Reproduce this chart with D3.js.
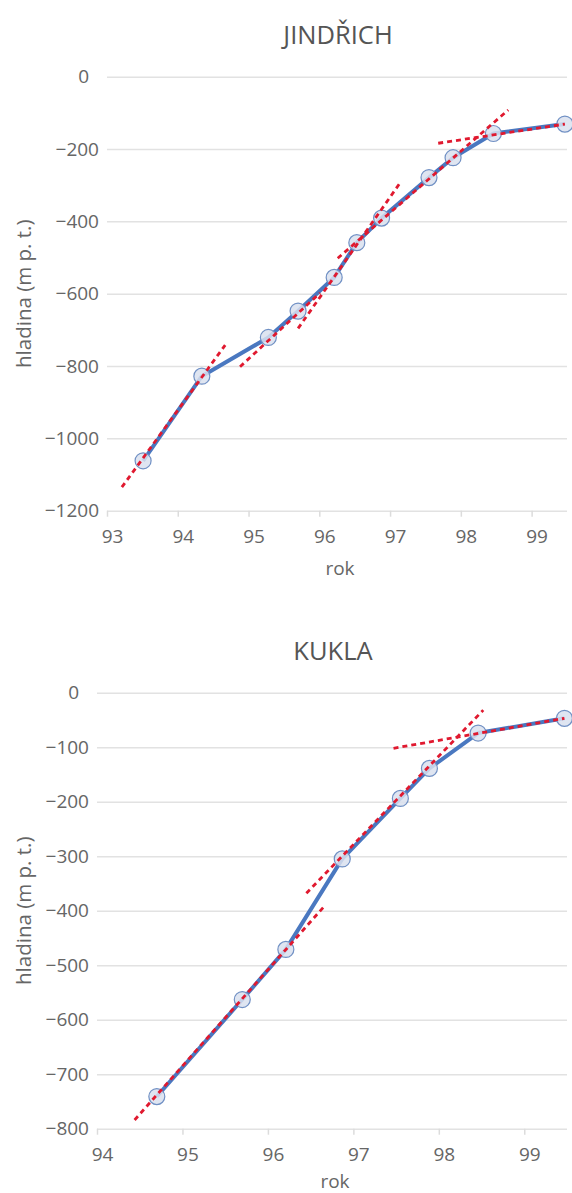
<!DOCTYPE html>
<html>
<head>
<meta charset="utf-8">
<script src="https://cdn.jsdelivr.net/npm/d3@7"></script>
<style>
  html, body { margin: 0; padding: 0; background: #fff; }
  svg { display: block; font-family: "Open Sans", sans-serif; }
</style>
</head>
<body>
<svg id="chart" width="572" height="1193"></svg>
<script>
// ---------- DATA ----------
// JINDŘICH
const jTitle = "JINDŘICH";
const jYears  = [93.51, 94.34, 95.28, 95.70, 96.21, 96.53, 96.88, 97.55, 97.89, 98.46, 99.47];
const jLevels = [-1062, -828, -721, -648, -555, -459, -391, -279, -224, -157, -131];
// trend segments: [x1, y1, x2, y2]
const jTrends = [
  [93.21, -1135, 94.67, -742],
  [94.88, -802, 96.01, -598],
  [95.70, -696, 97.14, -294],
  [96.26, -502, 98.67, -92],
  [97.68, -184, 99.47, -131]
];
const jXTicks = [93, 94, 95, 96, 97, 98, 99];
const jYTicks = [0, -200, -400, -600, -800, -1000, -1200];

// KUKLA
const kTitle = "KUKLA";
const kYears  = [94.70, 95.70, 96.21, 96.87, 97.55, 97.89, 98.46, 99.47];
const kLevels = [-741, -563, -471, -305, -194, -139, -74, -47];
const kTrends = [
  [94.44, -784, 96.67, -390],
  [96.45, -368, 98.52, -32],
  [97.47, -102, 99.47, -47]
];
const kXTicks = [94, 95, 96, 97, 98, 99];
const kYTicks = [0, -100, -200, -300, -400, -500, -600, -700, -800];

const xLabel = "rok";
const yLabel = "hladina (m p. t.)";

// ---------- DRAW ----------
const svg = d3.select("#chart");
const fmt = d => (d < 0 ? "\u2212" : "") + Math.abs(d);

function drawChart(cfg) {
  const x = d3.scaleLinear().domain(cfg.xDomain).range(cfg.xRange);
  const y = d3.scaleLinear().domain(cfg.yDomain).range(cfg.yRange);
  const g = svg.append("g");
  const w = cfg.xRange[1] - cfg.xRange[0];

  // title
  g.append("text")
    .attr("x", (cfg.xRange[0] + cfg.xRange[1]) / 2 + 1)
    .attr("y", cfg.titleY)
    .attr("text-anchor", "middle")
    .attr("font-size", 25.5)
    .attr("fill", "#555")
    .text(cfg.title);

  // y axis with gridlines
  const yAx = g.append("g")
    .attr("transform", `translate(${cfg.xRange[0]},0)`)
    .call(d3.axisLeft(y).tickValues(cfg.yTicks).tickFormat(fmt).tickSize(-w).tickPadding(8));
  yAx.select(".domain").remove();
  yAx.selectAll(".tick line").attr("stroke", "#e2e2e2").attr("stroke-width", 1.5);
  yAx.selectAll(".tick text")
    .attr("fill", "#666")
    .attr("font-size", 19)
    .attr("font-family", "Open Sans, sans-serif")
    .attr("dx", d => d === 0 ? -10 : 0);

  // x axis
  const xAx = g.append("g")
    .attr("transform", `translate(0,${cfg.yRange[0]})`)
    .call(d3.axisBottom(x).tickValues(cfg.xTicks).tickFormat(d3.format("d")).tickSize(6).tickPadding(8));
  xAx.select(".domain").remove();
  xAx.selectAll(".tick line").attr("stroke", "#dcdcdc").attr("stroke-width", 1.5);
  xAx.selectAll(".tick text")
    .attr("fill", "#666")
    .attr("font-size", 19)
    .attr("font-family", "Open Sans, sans-serif")
    .attr("dx", 5)
    .attr("dy", 0)
    .attr("y", 32.5);

  // axis titles
  g.append("text")
    .attr("x", (cfg.xRange[0] + cfg.xRange[1]) / 2 + 3)
    .attr("y", cfg.yRange[0] + cfg.xTitleOffset)
    .attr("text-anchor", "middle")
    .attr("font-size", 19)
    .attr("fill", "#666")
    .text(xLabel);

  const yMid = (cfg.yRange[0] + cfg.yRange[1]) / 2;
  g.append("text")
    .attr("transform", `translate(31,${yMid}) rotate(-90)`)
    .attr("text-anchor", "middle")
    .attr("font-size", 20.5)
    .attr("fill", "#666")
    .text(yLabel);

  // data line
  const pts = cfg.years.map((yr, i) => [yr, cfg.levels[i]]);
  g.append("path")
    .datum(pts)
    .attr("fill", "none")
    .attr("stroke", "#4a78c0")
    .attr("stroke-width", 4)
    .attr("stroke-linejoin", "round")
    .attr("d", d3.line().x(d => x(d[0])).y(d => y(d[1])));

  // markers
  g.selectAll("circle.pt")
    .data(pts)
    .join("circle")
    .attr("class", "pt")
    .attr("cx", d => x(d[0]))
    .attr("cy", d => y(d[1]))
    .attr("r", 8)
    .attr("fill", "#d9e1ee")
    .attr("fill-opacity", 0.85)
    .attr("stroke", "#7090c4")
    .attr("stroke-width", 1.2);

  // trend lines
  g.selectAll("line.trend")
    .data(cfg.trends)
    .join("line")
    .attr("class", "trend")
    .attr("x1", d => x(d[0]))
    .attr("y1", d => y(d[1]))
    .attr("x2", d => x(d[2]))
    .attr("y2", d => y(d[3]))
    .attr("stroke", "#e0192f")
    .attr("stroke-width", 2.8)
    .attr("stroke-dasharray", "5,4");
}

drawChart({
  title: jTitle, titleY: 44,
  years: jYears, levels: jLevels, trends: jTrends,
  xTicks: jXTicks, yTicks: jYTicks,
  xDomain: [93, 99.5], xRange: [107, 567],
  yDomain: [-1200, 0], yRange: [510.7, 76.7],
  xTitleOffset: 64
});

drawChart({
  title: kTitle, titleY: 660,
  years: kYears, levels: kLevels, trends: kTrends,
  xTicks: kXTicks, yTicks: kYTicks,
  xDomain: [94, 99.5], xRange: [97, 567],
  yDomain: [-800, 0], yRange: [1128.7, 692.7],
  xTitleOffset: 59
});
</script>
</body>
</html>
